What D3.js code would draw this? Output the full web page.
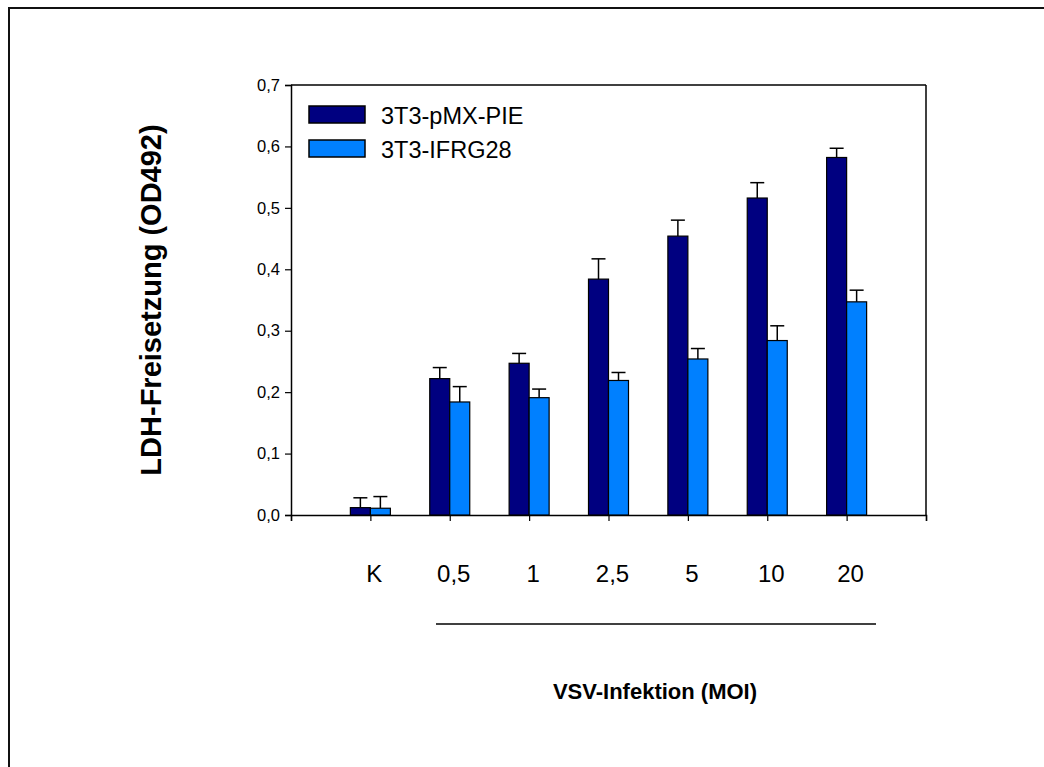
<!DOCTYPE html>
<html>
<head>
<meta charset="utf-8">
<script src="https://cdn.jsdelivr.net/npm/d3@7"></script>
<style>
  body { margin: 0; background: #fff; }
  text { font-family: "Liberation Sans", Arial, sans-serif; fill: #000; }
</style>
</head>
<body>
<svg id="chart" width="1044" height="767"></svg>
<script>
// data
const categories = ["K", "0,5", "1", "2,5", "5", "10", "20"];
const seriesNames = ["3T3-pMX-PIE", "3T3-IFRG28"];
const pmxValues = [0.012, 0.222, 0.247, 0.384, 0.454, 0.516, 0.582];
const pmxErrors = [0.016, 0.018, 0.016, 0.033, 0.026, 0.025, 0.015];
const ifrgValues = [0.011, 0.184, 0.191, 0.219, 0.254, 0.284, 0.347];
const ifrgErrors = [0.019, 0.025, 0.014, 0.013, 0.017, 0.024, 0.019];
const yTicks = [0, 0.1, 0.2, 0.3, 0.4, 0.5, 0.6, 0.7];

const colors = ["#000080", "#0080ff"];
const barW = 20;

const svg = d3.select("#chart");

// outer frame (runs off the right and bottom edges)
svg.append("rect")
    .attr("x", 9).attr("y", 8)
    .attr("width", 1100).attr("height", 800)
    .attr("fill", "none")
    .attr("stroke", "#111")
    .attr("stroke-width", 2);

const plotL = 291, plotR = 926, plotT = 85, plotB = 515;

// slot 0 and slot 8 are the axis ends, categories sit on 1..7
const x = d3.scaleLinear().domain([0, categories.length + 1]).range([plotL, plotR]);
const y = d3.scaleLinear().domain([0, 0.7]).range([plotB, plotT]);

const fmt = d => d3.format(".1f")(d).replace(".", ",");

// plot box
svg.append("line").attr("x1", plotL).attr("x2", plotR).attr("y1", plotT).attr("y2", plotT)
    .attr("stroke", "#000").attr("stroke-width", 1.5);
svg.append("line").attr("x1", plotR).attr("x2", plotR).attr("y1", plotT).attr("y2", plotB)
    .attr("stroke", "#000").attr("stroke-width", 1.5);

// y axis
const yAxis = svg.append("g")
    .attr("transform", `translate(${plotL},0)`)
    .call(d3.axisLeft(y).tickValues(yTicks).tickFormat(fmt).tickSize(6).tickPadding(5));
yAxis.select(".domain").attr("stroke-width", 1.5);
yAxis.selectAll(".tick line").attr("stroke-width", 1.2);
yAxis.selectAll("text").attr("font-size", 16.5).attr("font-family", "Liberation Sans, Arial, sans-serif");

// x axis: ticks only, labels drawn lower
const xAxis = svg.append("g")
    .attr("transform", `translate(0,${plotB})`)
    .call(d3.axisBottom(x).ticks(categories.length + 1).tickFormat("").tickSize(6));
xAxis.select(".domain").attr("stroke-width", 1.5);
xAxis.selectAll(".tick line").attr("stroke-width", 1.2);

// bars
const groups = [
  { values: pmxValues, errors: pmxErrors, offset: -barW, color: colors[0] },
  { values: ifrgValues, errors: ifrgErrors, offset: 0, color: colors[1] }
];

groups.forEach(g => {
  const rows = g.values.map((v, i) => ({ v, e: g.errors[i], cx: x(i + 1) + g.offset + barW / 2 }));

  // error bars (upper only)
  svg.append("g").selectAll("line.err")
      .data(rows).enter().append("line")
      .attr("x1", d => d.cx).attr("x2", d => d.cx)
      .attr("y1", d => y(d.v)).attr("y2", d => y(d.v + d.e))
      .attr("stroke", "#000").attr("stroke-width", 1.5);
  svg.append("g").selectAll("line.cap")
      .data(rows).enter().append("line")
      .attr("x1", d => d.cx - 7).attr("x2", d => d.cx + 7)
      .attr("y1", d => y(d.v + d.e)).attr("y2", d => y(d.v + d.e))
      .attr("stroke", "#000").attr("stroke-width", 1.5);

  svg.append("g").selectAll("rect")
      .data(rows).enter().append("rect")
      .attr("x", d => d.cx - barW / 2)
      .attr("y", d => y(d.v))
      .attr("width", barW)
      .attr("height", d => y(0) - y(d.v))
      .attr("fill", g.color)
      .attr("stroke", "#000")
      .attr("stroke-width", 1.2);
});

// category labels
svg.append("g").selectAll("text")
    .data(categories).enter().append("text")
    .attr("x", (d, i) => x(i + 1) + 4)
    .attr("y", 582)
    .attr("text-anchor", "middle")
    .attr("font-size", 24)
    .text(d => d);

// bracket line under the infection doses
svg.append("line")
    .attr("x1", 436).attr("x2", 876).attr("y1", 624).attr("y2", 624)
    .attr("stroke", "#000").attr("stroke-width", 1.5);

// axis titles
svg.append("text")
    .attr("x", 655).attr("y", 699)
    .attr("text-anchor", "middle")
    .attr("font-size", 22).attr("font-weight", "bold")
    .text("VSV-Infektion (MOI)");

svg.append("text")
    .attr("transform", "translate(161,300) rotate(-90)")
    .attr("text-anchor", "middle")
    .attr("font-size", 29).attr("font-weight", "bold")
    .text("LDH-Freisetzung (OD492)");

// legend
const legend = svg.append("g").attr("transform", "translate(309,106)");
seriesNames.forEach((name, i) => {
  legend.append("rect")
      .attr("x", 0).attr("y", i * 34)
      .attr("width", 56).attr("height", 17)
      .attr("fill", colors[i])
      .attr("stroke", "#000").attr("stroke-width", 1.5);
  legend.append("text")
      .attr("x", 72).attr("y", i * 34 + 18)
      .attr("font-size", 23.5)
      .text(name);
});
</script>
</body>
</html>
